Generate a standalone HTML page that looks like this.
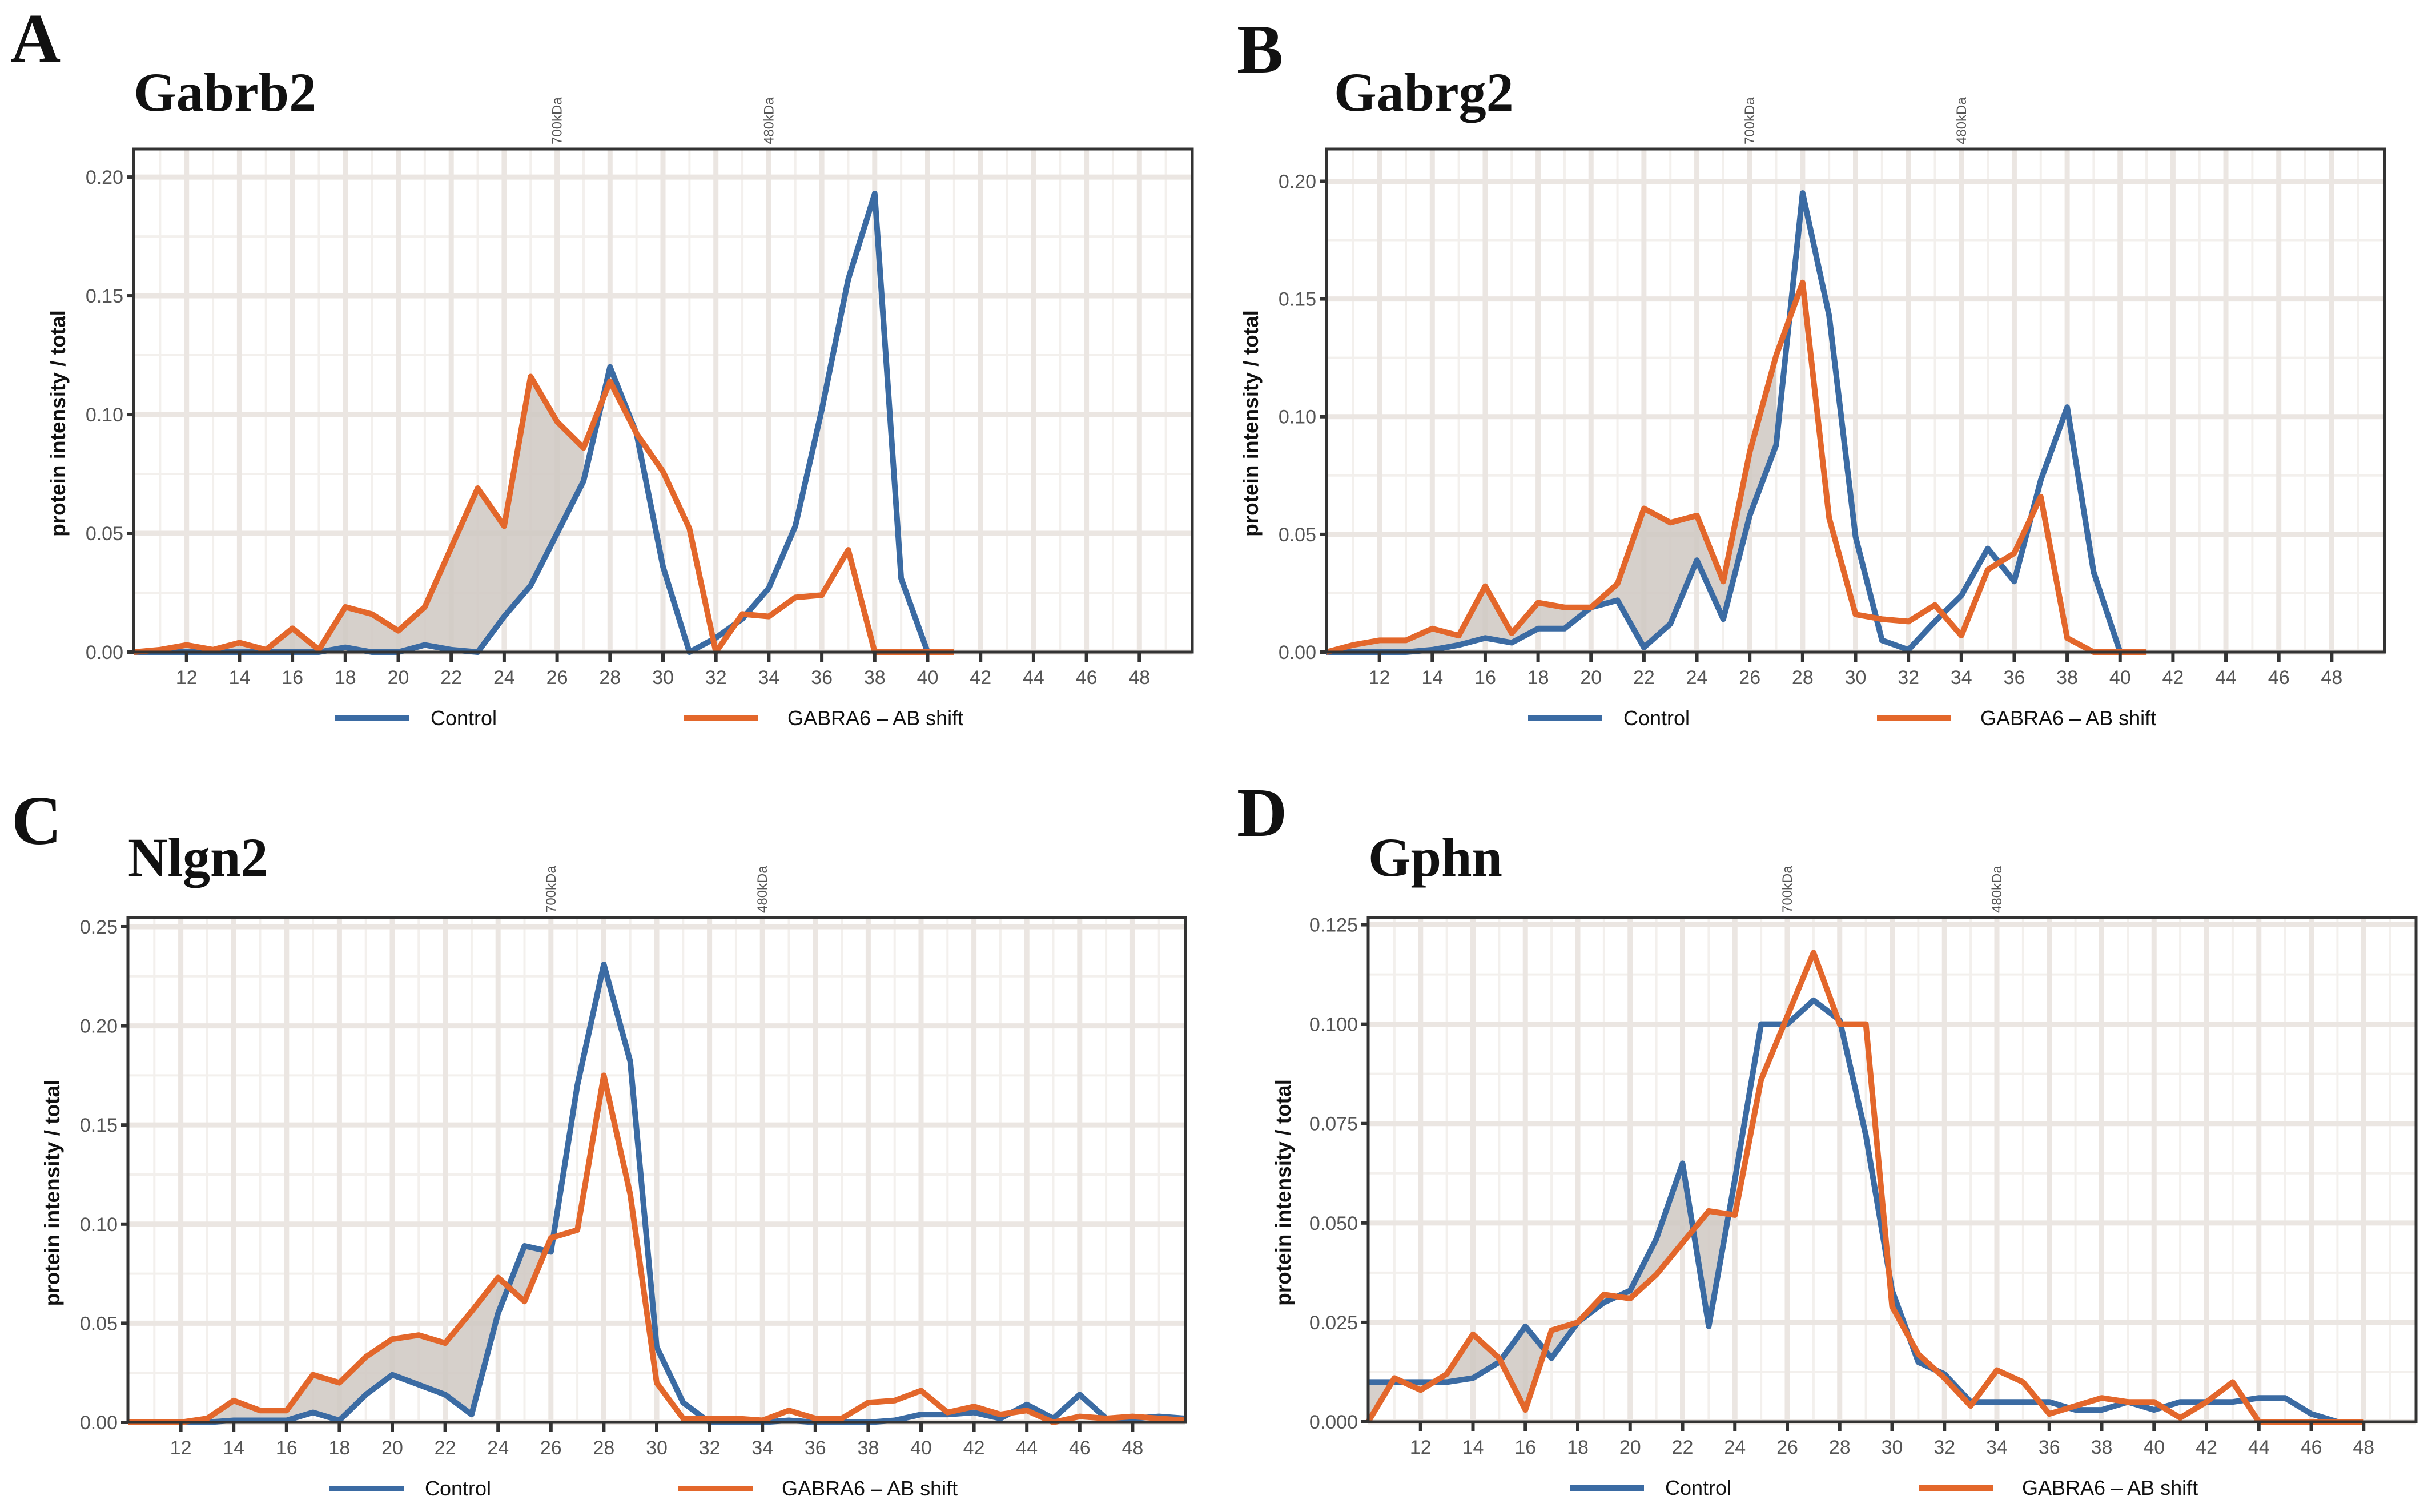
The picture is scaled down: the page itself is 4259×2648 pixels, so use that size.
<!DOCTYPE html>
<html><head><meta charset="utf-8">
<style>
html,body{margin:0;padding:0;background:#fff;}
svg{display:block;}
.tk{font-family:"Liberation Sans Narrow","Liberation Sans",sans-serif;fill:#555;}
</style></head>
<body>
<svg id="fig" xmlns="http://www.w3.org/2000/svg" width="4259" height="2648" viewBox="0 0 4259 2648"></svg>
<script>
// ---- data ----
const fractionsA = [10,11,12,13,14,15,16,17,18,19,20,21,22,23,24,25,26,27,28,29,30,31,32,33,34,35,36,37,38,39,40,41];
const controlA  = [0,0,0,0,0,0,0,0,0.002,0,0,0.003,0.001,0,0.015,0.028,0.05,0.072,0.120,0.092,0.036,0,0.006,0.014,0.027,0.053,0.102,0.157,0.193,0.031,0,null];
const shiftA    = [0,0.001,0.003,0.001,0.004,0.001,0.010,0.001,0.019,0.016,0.009,0.019,0.044,0.069,0.053,0.116,0.097,0.086,0.114,0.092,0.076,0.052,0,0.016,0.015,0.023,0.024,0.043,0,0,0,0];

const fractionsB = [10,11,12,13,14,15,16,17,18,19,20,21,22,23,24,25,26,27,28,29,30,31,32,33,34,35,36,37,38,39,40,41];
const controlB  = [0,0,0,0,0.001,0.003,0.006,0.004,0.010,0.010,0.019,0.022,0.002,0.012,0.039,0.014,0.058,0.088,0.195,0.143,0.049,0.005,0.001,0.013,0.024,0.044,0.030,0.073,0.104,0.034,0,null];
const shiftB    = [0,0.003,0.005,0.005,0.010,0.007,0.028,0.008,0.021,0.019,0.019,0.029,0.061,0.055,0.058,0.030,0.085,0.126,0.157,0.057,0.016,0.014,0.013,0.020,0.007,0.035,0.042,0.066,0.006,0,0,0];

const fractionsC = [10,11,12,13,14,15,16,17,18,19,20,21,22,23,24,25,26,27,28,29,30,31,32,33,34,35,36,37,38,39,40,41,42,43,44,45,46,47,48,49,50];
const controlC  = [0,0,0,0,0.001,0.001,0.001,0.005,0.001,0.014,0.024,0.019,0.014,0.004,0.055,0.089,0.086,0.170,0.231,0.182,0.038,0.010,0,0,0,0.001,0,0,0,0.001,0.004,0.004,0.005,0.002,0.009,0.002,0.014,0.002,0.002,0.003,0.002];
const shiftC    = [0,0,0,0.002,0.011,0.006,0.006,0.024,0.020,0.033,0.042,0.044,0.040,0.056,0.073,0.061,0.093,0.097,0.175,0.115,0.020,0.002,0.002,0.002,0.001,0.006,0.002,0.002,0.010,0.011,0.016,0.005,0.008,0.004,0.006,0,0.003,0.002,0.003,0.002,0.001];

const fractionsD = [10,11,12,13,14,15,16,17,18,19,20,21,22,23,24,25,26,27,28,29,30,31,32,33,34,35,36,37,38,39,40,41,42,43,44,45,46,47,48];
const controlD  = [0.010,0.010,0.010,0.010,0.011,0.015,0.024,0.016,0.025,0.030,0.033,0.046,0.065,0.024,0.061,0.100,0.100,0.106,0.101,0.072,0.033,0.015,0.012,0.005,0.005,0.005,0.005,0.003,0.003,0.005,0.003,0.005,0.005,0.005,0.006,0.006,0.002,0,null];
const shiftD    = [0,0.011,0.008,0.012,0.022,0.016,0.003,0.023,0.025,0.032,0.031,0.037,0.045,0.053,0.052,0.086,0.102,0.118,0.100,0.100,0.029,0.017,0.011,0.004,0.013,0.010,0.002,0.004,0.006,0.005,0.005,0.001,0.005,0.010,0,0,0,0,0];

const xTicks = [12,14,16,18,20,22,24,26,28,30,32,34,36,38,40,42,44,46,48];
const yTicksAB = [0,0.05,0.10,0.15,0.20];
const yLabelsAB = ["0.00","0.05","0.10","0.15","0.20"];
const yTicksC = [0,0.05,0.10,0.15,0.20,0.25];
const yLabelsC = ["0.00","0.05","0.10","0.15","0.20","0.25"];
const yTicksD = [0,0.025,0.05,0.075,0.10,0.125];
const yLabelsD = ["0.000","0.025","0.050","0.075","0.100","0.125"];
const markers = [26,34];
const markerLabels = ["700kDa","480kDa"];

const NS="http://www.w3.org/2000/svg";
const svg=document.getElementById('fig');
function mk(tag,attrs,parent){const e=document.createElementNS(NS,tag);for(const k in attrs)e.setAttribute(k,attrs[k]);(parent||svg).appendChild(e);return e;}

function panel(p){
  const g=mk('g',{});
  
  
  const L=p.left,R=p.right,T=p.top,B=p.bottom;
  const xs=v=>L+(v-10)/40*(R-L);
  const ys=v=>B-v/p.ymax*(B-T);
  const lt=mk('text',{x:p.letterX,y:p.letterY,'font-family':'"Liberation Serif",serif','font-weight':'bold','font-size':122,fill:'#111'},g);
  lt.textContent=p.id.toUpperCase();
  
  
  const tt=mk('text',{x:p.titleX,y:p.titleY,'font-family':'"Liberation Serif",serif','font-weight':'bold','font-size':96,fill:'#111'},g);
  tt.textContent=p.title;
  
  
  for(let v=11;v<=49;v+=2){const l=mk('line',{x1:xs(v),x2:xs(v),y1:T,y2:B,stroke:'#f3f0ed','stroke-width':4},g);
    }
  for(let i=0;i<p.yt.length-1;i++){const v=(p.yt[i]+p.yt[i+1])/2;const l=mk('line',{x1:L,x2:R,y1:ys(v),y2:ys(v),stroke:'#f3f0ed','stroke-width':4},g);
    }
  xTicks.forEach(v=>{const l=mk('line',{x1:xs(v),x2:xs(v),y1:T,y2:B,stroke:'#ebe6e2','stroke-width':9},g);
    });
  p.yt.forEach(v=>{const l=mk('line',{x1:L,x2:R,y1:ys(v),y2:ys(v),stroke:'#ebe6e2','stroke-width':9},g);
    });
  let pts=[],back=[];
  p.x.forEach((v,i)=>{if(v<=p.fillEnd&&p.c[i]!=null&&p.s[i]!=null){pts.push(xs(v)+','+ys(p.s[i]));back.unshift(xs(v)+','+ys(p.c[i]));}});
  const fill=mk('polygon',{points:pts.concat(back).join(' '),fill:'#cfc8c2','fill-opacity':0.85},g);
  
  const path=(arr)=>{let d='';let pen=false;p.x.forEach((v,i)=>{if(arr[i]==null){pen=false;return;}d+=(pen?'L':'M')+xs(v).toFixed(1)+' '+ys(arr[i]).toFixed(1);pen=true;});return d;};
  const lc=mk('path',{d:path(p.c),fill:'none',stroke:'#3b6ba3','stroke-width':10,'stroke-linejoin':'round'},g);
  
  const ls=mk('path',{d:path(p.s),fill:'none',stroke:'#e3672b','stroke-width':10,'stroke-linejoin':'round'},g);
  
  const fr=mk('rect',{x:L,y:T,width:R-L,height:B-T,fill:'none',stroke:'#333','stroke-width':5},g);
  
  xTicks.forEach(v=>{const t=mk('line',{x1:xs(v),x2:xs(v),y1:B,y2:B+17,stroke:'#333','stroke-width':6},g);
    
    const tx=mk('text',{x:xs(v),y:B+56,'text-anchor':'middle','font-size':34,class:'tk'},g);tx.textContent=v;
    });
  p.yt.forEach((v,i)=>{const t=mk('line',{x1:L-12,x2:L,y1:ys(v),y2:ys(v),stroke:'#333','stroke-width':6},g);
    
    const tx=mk('text',{x:L-18,y:ys(v)+12,'text-anchor':'end','font-size':34,class:'tk'},g);tx.textContent=p.yl[i];
    });
  markers.forEach((v,i)=>{const tx=mk('text',{x:0,y:0,'font-size':24,class:'tk',transform:`translate(${xs(v)+8},${T-8}) rotate(-90)`},g);
    tx.textContent=markerLabels[i];
    });
  const yt=mk('text',{x:0,y:0,'text-anchor':'middle','font-family':'"Liberation Sans",sans-serif','font-weight':'bold','font-size':37,fill:'#111',transform:`translate(${p.ytitleX+2},${(T+B)/2+40}) rotate(-90)`},g);
  yt.textContent='protein intensity / total';
  
  const ly=B+116;
  const l1=mk('line',{x1:L+353,x2:L+483,y1:ly,y2:ly,stroke:'#3b6ba3','stroke-width':10},g);
  
  const t1=mk('text',{x:L+520,y:ly+12,'font-size':36,class:'tk',style:'fill:#111'},g);t1.textContent='Control';
  
  const l2=mk('line',{x1:L+964,x2:L+1094,y1:ly,y2:ly,stroke:'#e3672b','stroke-width':10},g);
  
  const t2=mk('text',{x:L+1145,y:ly+12,'font-size':36,class:'tk',style:'fill:#111'},g);t2.textContent='GABRA6 \u2013 AB shift';
  
}

panel({id:'a',title:'Gabrb2',left:234,right:2088,top:261,bottom:1142,ymax:0.2118,yt:yTicksAB,yl:yLabelsAB,x:fractionsA,c:controlA,s:shiftA,fillEnd:27,letterX:18,letterY:108,titleX:234,titleY:194,ytitleX:112});
panel({id:'b',title:'Gabrg2',left:2323,right:4176,top:261,bottom:1142,ymax:0.2137,yt:yTicksAB,yl:yLabelsAB,x:fractionsB,c:controlB,s:shiftB,fillEnd:27,letterX:2166,letterY:127,titleX:2336,titleY:194,ytitleX:2201});
panel({id:'c',title:'Nlgn2',left:224,right:2076,top:1607,bottom:2491,ymax:0.2546,yt:yTicksC,yl:yLabelsC,x:fractionsC,c:controlC,s:shiftC,fillEnd:26,letterX:20,letterY:1478,titleX:224,titleY:1534,ytitleX:102});
panel({id:'d',title:'Gphn',left:2396,right:4231,top:1607,bottom:2490,ymax:0.1268,yt:yTicksD,yl:yLabelsD,x:fractionsD,c:controlD,s:shiftD,fillEnd:24,letterX:2166,letterY:1464,titleX:2396,titleY:1534,ytitleX:2258});
</script>
</body></html>
